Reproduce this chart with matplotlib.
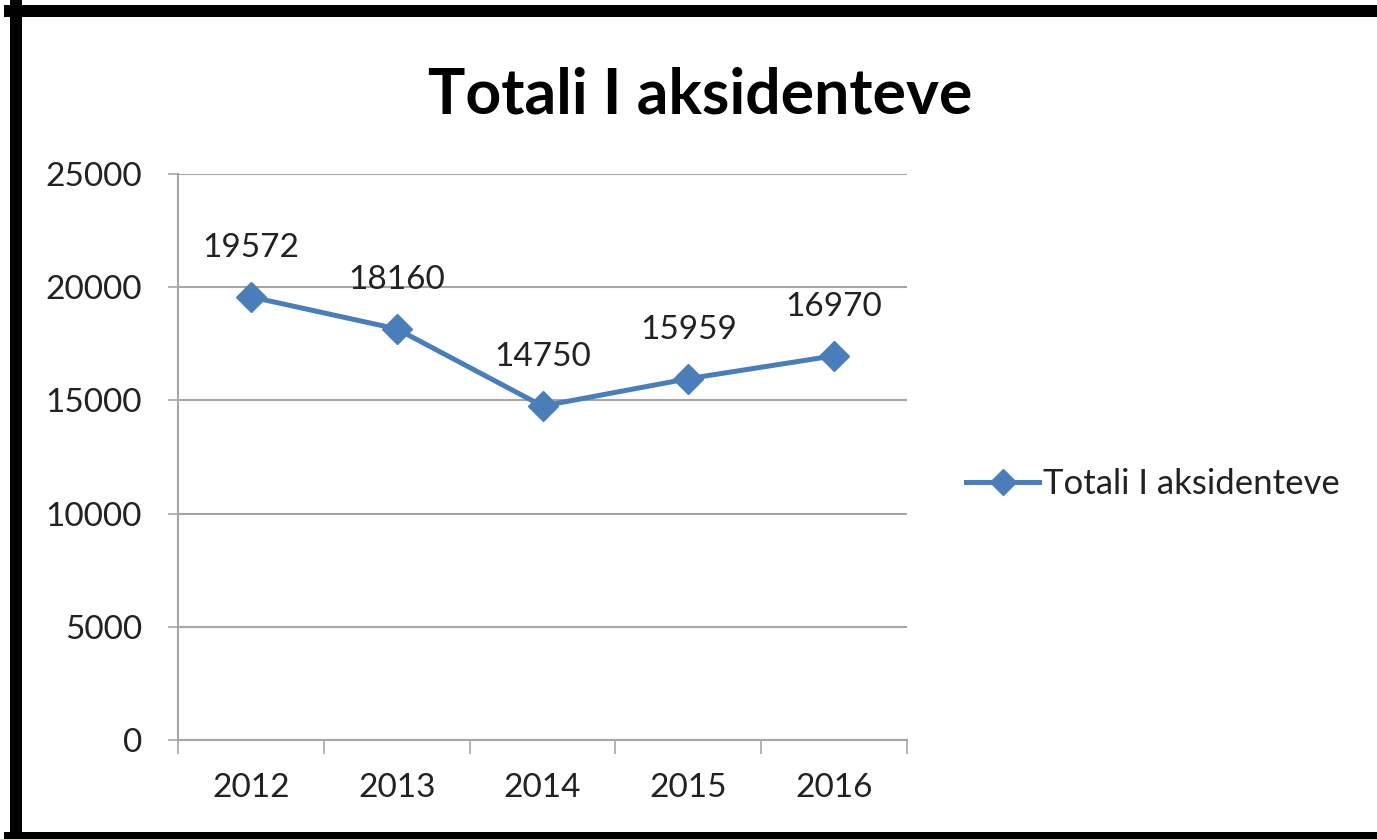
import matplotlib
matplotlib.use("Agg")
import matplotlib.pyplot as plt
from matplotlib.lines import Line2D

years = ["2012", "2013", "2014", "2015", "2016"]
values = [19572, 18160, 14750, 15959, 16970]
series_name = "Totali I aksidenteve"
title = "Totali I aksidenteve"
yticks = [0, 5000, 10000, 15000, 20000, 25000]

W, H = 1377, 839
plt.rcParams['font.family'] = ['Lato', 'DejaVu Sans']
fig = plt.figure(figsize=(W / 100, H / 100), dpi=100)
fig.patch.set_facecolor('white')

def fx(px): return px / W
def fy(py): return 1 - py / H

ax = fig.add_axes([fx(178), fy(740), fx(907) - fx(178), fy(174) - fy(740)])
blue = '#4a7ebb'
grid_c = '#a6a6a6'
txt_c = '#222222'
x = list(range(len(years)))
ax.plot(x, values, color=blue, lw=3.6, marker='D', ms=15, mfc=blue, mec=blue,
        label=series_name, zorder=3, solid_joinstyle='round')
ax.set_xlim(-0.5, len(years) - 0.5)
ax.set_ylim(0, 25000)
ax.set_yticks(yticks)
ax.set_yticklabels([str(v) for v in yticks])
ax.set_xticks(x)
ax.set_xticklabels(years)
ax.set_xticks([i - 0.5 for i in range(len(years) + 1)], minor=True)
ax.tick_params(axis='x', which='major', length=0, pad=24, labelsize=24, labelcolor=txt_c)
ax.tick_params(axis='x', which='minor', length=10, width=1.2, color=grid_c, direction='out')
ax.tick_params(axis='y', which='major', length=7, width=1.2, color=grid_c, pad=19,
               labelsize=24, labelcolor=txt_c)
for s in ['top', 'right']:
    ax.spines[s].set_visible(False)
for s in ['left', 'bottom']:
    ax.spines[s].set_color(grid_c)
    ax.spines[s].set_linewidth(1.5)
ax.yaxis.grid(True, color=grid_c, lw=1.5)
ax.set_axisbelow(True)

for xi, v in zip(x, values):
    ax.annotate(str(v), (xi, v), xytext=(0, 35), textcoords='offset points',
                ha='center', va='center', fontsize=24, color=txt_c)

fig.text(fx(700), fy(95), title, ha='center', va='center', fontsize=45,
         fontweight='bold', color='black')

handle = Line2D([], [], color=blue, lw=3.6, marker='D', ms=13, mfc=blue, mec=blue)
fig.legend([handle], [series_name], loc='center left', bbox_to_anchor=(fx(935), fy(484)),
           frameon=False, fontsize=25, handlelength=2.1, handletextpad=0.12,
           labelcolor=txt_c)

# black frame
lw_frame = 12 * 72 / 100
fig.add_artist(Line2D([fx(16), fx(16)], [fy(5), fy(845)], color='black', lw=lw_frame,
                      transform=fig.transFigure))
fig.add_artist(Line2D([fx(10), fx(1400)], [fy(11), fy(11)], color='black', lw=lw_frame,
                      transform=fig.transFigure))
fig.add_artist(Line2D([fx(10), fx(1400)], [fy(838), fy(838)], color='black', lw=lw_frame,
                      transform=fig.transFigure))

fig.savefig('out.png', dpi=100, facecolor='white')
